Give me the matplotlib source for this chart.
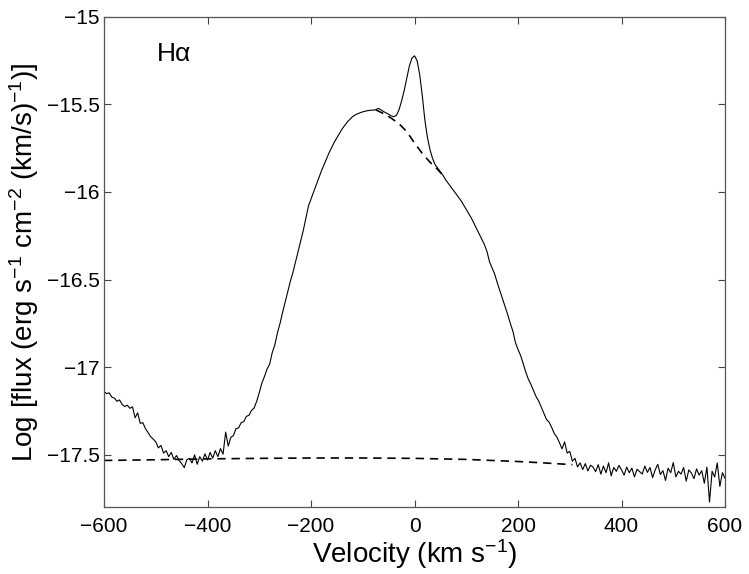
import numpy as np
import matplotlib
matplotlib.use('Agg')
import matplotlib.pyplot as plt

plt.rcParams['font.family'] = ['Liberation Sans', 'DejaVu Sans']
plt.rcParams['mathtext.fontset'] = 'custom'
plt.rcParams['mathtext.rm'] = 'Liberation Sans'
plt.rcParams['mathtext.it'] = 'Liberation Sans:italic'

# velocity grid of the observed spectrum (km/s)
velocity = np.arange(-600, 601, 5)

flux = [
    -17.140, -17.152, -17.148, -17.172, -17.178, -17.196, -17.188, -17.214, -17.226, -17.218,
    -17.236, -17.228, -17.290, -17.262, -17.322, -17.318, -17.352, -17.374, -17.398, -17.412,
    -17.428, -17.462, -17.448, -17.492, -17.478, -17.512, -17.488, -17.528, -17.506, -17.534,
    -17.552, -17.575, -17.530, -17.522, -17.548, -17.502, -17.556, -17.512, -17.538, -17.496,
    -17.532, -17.488, -17.521, -17.478, -17.512, -17.466, -17.498, -17.372, -17.452, -17.402,
    -17.392, -17.352, -17.348, -17.318, -17.312, -17.282, -17.276, -17.248, -17.234, -17.196,
    -17.146, -17.092, -17.054, -17.012, -16.984, -16.918, -16.874, -16.806, -16.752, -16.688,
    -16.630, -16.570, -16.510, -16.460, -16.400, -16.340, -16.280, -16.220, -16.150, -16.080,
    -16.040, -16.000, -15.960, -15.920, -15.880, -15.845, -15.810, -15.775, -15.745, -15.715,
    -15.690, -15.665, -15.640, -15.620, -15.600, -15.585, -15.570, -15.560, -15.553, -15.547,
    -15.542, -15.538, -15.535, -15.533, -15.532, -15.530, -15.522, -15.530, -15.540, -15.548,
    -15.556, -15.565, -15.570, -15.562, -15.530, -15.480, -15.420, -15.350, -15.280, -15.235,
    -15.222, -15.250, -15.330, -15.450, -15.590, -15.690, -15.760, -15.810, -15.845, -15.865,
    -15.885, -15.905, -15.930, -15.950, -15.970, -15.990, -16.010, -16.030, -16.050, -16.075,
    -16.100, -16.125, -16.150, -16.180, -16.210, -16.240, -16.270, -16.300, -16.340, -16.400,
    -16.435, -16.470, -16.520, -16.565, -16.610, -16.655, -16.700, -16.750, -16.795, -16.860,
    -16.900, -16.935, -16.980, -17.030, -17.070, -17.100, -17.135, -17.170, -17.195, -17.230,
    -17.265, -17.300, -17.315, -17.345, -17.380, -17.400, -17.432, -17.468, -17.428, -17.492,
    -17.482, -17.538, -17.522, -17.571, -17.548, -17.586, -17.552, -17.594, -17.561, -17.572,
    -17.598, -17.558, -17.612, -17.566, -17.604, -17.548, -17.622, -17.574, -17.596, -17.562,
    -17.588, -17.618, -17.572, -17.604, -17.578, -17.628, -17.584, -17.598, -17.612, -17.566,
    -17.602, -17.574, -17.632, -17.588, -17.556, -17.614, -17.592, -17.648, -17.578, -17.604,
    -17.546, -17.628, -17.596, -17.612, -17.574, -17.652, -17.588, -17.606, -17.638, -17.582,
    -17.618, -17.592, -17.664, -17.572, -17.772, -17.596, -17.628, -17.548, -17.682, -17.604,
    -17.636,
]

# broad component underneath the narrow peak (dashed)
broad_v = [-75, -60, -45, -30, -15, 0, 15, 30, 45, 55]
broad_flux = [-15.530, -15.552, -15.578, -15.610, -15.655, -15.720, -15.780, -15.830, -15.872, -15.905]

# continuum fit (dashed)
cont_v = [-600, -500, -400, -300, -200, -100, 0, 100, 200, 250, 305]
cont_flux = [-17.534, -17.530, -17.525, -17.522, -17.520, -17.520, -17.522, -17.528, -17.540, -17.548, -17.558]

fig = plt.figure(figsize=(7.49, 5.74), dpi=100)
ax = fig.add_axes([0.1389, 0.1167, 0.8291, 0.8537])

ax.plot(velocity, flux, color='black', lw=0.8)
ax.plot(broad_v, broad_flux, color='black', lw=1.2, linestyle=(0, (5, 3.5)))
ax.plot(cont_v, cont_flux, color='black', lw=1.2, linestyle=(0, (5, 3.5)))

ax.set_xlim(-600, 600)
ax.set_ylim(-17.8, -15)
ax.set_xticks([-600, -400, -200, 0, 200, 400, 600])
ax.set_yticks([-17.5, -17, -16.5, -16, -15.5, -15])
ax.set_yticklabels(['\u221217.5', '\u221217', '\u221216.5', '\u221216', '\u221215.5', '\u221215'])

ax.tick_params(direction='in', top=True, right=True, length=5, width=0.8,
               labelsize=15, color='#444444')
ax.tick_params(axis='x', pad=7)
ax.tick_params(axis='y', pad=3)
for s in ax.spines.values():
    s.set_color('#555555')
    s.set_linewidth(0.9)

ax.set_xlabel('Velocity (km s$^{-1}$)', fontsize=20, labelpad=1)
ax.set_ylabel('Log [flux (erg s$^{-1}$ cm$^{-2}$ (km/s)$^{-1}$)]', fontsize=20, labelpad=4)

ax.text(-498, -15.21, 'H\u03b1', fontsize=19, ha='left', va='center')

fig.savefig('out.png', dpi=100)
